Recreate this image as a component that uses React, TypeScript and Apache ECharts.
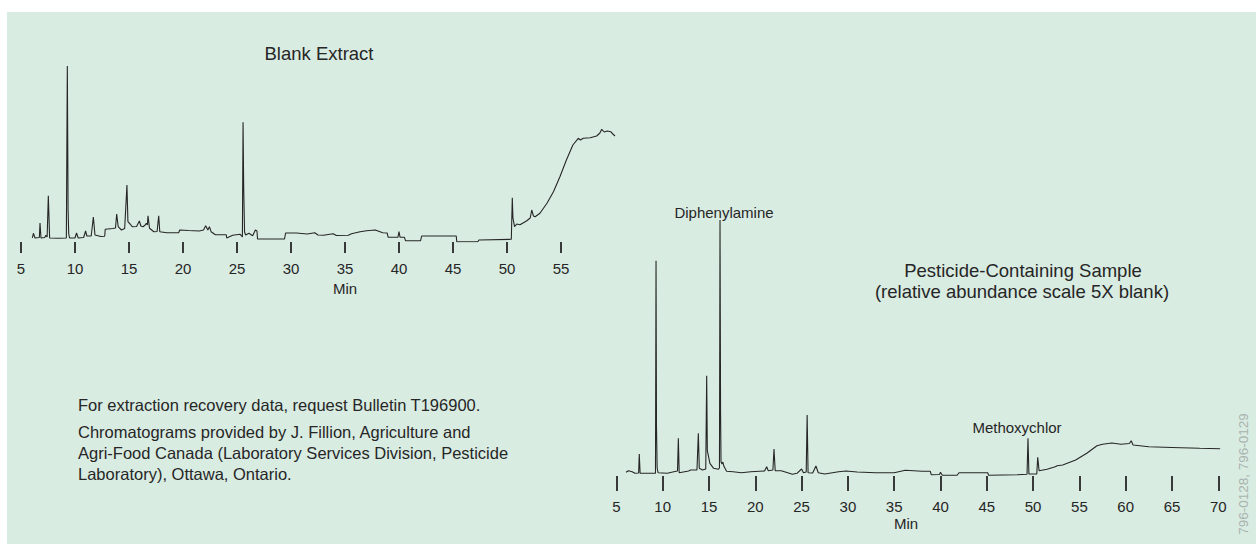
import React, { useEffect, useRef } from "react";
import * as echarts from "echarts";

// Retention time (min) / relative abundance pairs for each chromatogram
const blankTrace: [number, number][] = [
  [6.05, 4], [6.15, 8.7], [6.3, 4], [6.7, 4.5], [6.76, 19], [6.85, 4], [7.2, 4.5], [7.3, 6.7], [7.42, 5],
  [7.53, 46.3], [7.65, 4], [8.5, 3.8], [9.2, 4], [9.29, 176], [9.36, 32], [9.42, 8], [9.5, 4], [10.0, 4],
  [10.14, 9], [10.3, 4], [10.8, 4.5], [10.98, 11], [11.1, 6], [11.5, 6], [11.7, 25], [11.85, 7], [12.4, 5.5],
  [12.75, 5.7], [12.8, 12.7], [13.5, 13.5], [13.75, 14], [13.86, 28], [14.0, 15.3], [14.3, 12], [14.6, 13.5],
  [14.81, 57], [14.9, 20.3], [15.1, 18], [15.3, 15.3], [15.7, 15.5], [15.96, 21], [16.1, 16], [16.3, 15.3],
  [16.5, 17], [16.6, 18.7], [16.7, 17], [16.76, 26.3], [16.9, 13.7], [17.3, 10.3], [17.6, 10.5], [17.75, 26.3],
  [17.85, 10.3], [18.5, 9.3], [19.6, 9.3], [19.7, 12], [20.5, 11.5], [21.5, 11], [21.9, 12], [22.1, 16.3],
  [22.3, 12], [22.45, 15.3], [22.6, 10.3], [23.0, 7.3], [24.0, 7.3], [24.05, 4], [24.6, 6.7], [25.3, 7.7],
  [25.5, 5], [25.56, 119.7], [25.62, 54], [25.7, 10], [25.8, 7], [26.1, 8.7], [26.45, 6.3], [26.7, 12],
  [26.85, 11], [26.9, 3], [29.4, 3], [29.5, 9], [30.5, 9], [31.5, 8], [32.2, 9.3], [32.5, 7], [33.0, 6.7],
  [33.9, 8.3], [34.2, 6.5], [35.3, 6.7], [35.6, 8.3], [36.4, 10.3], [37.0, 11.3], [37.8, 12], [38.5, 9.3],
  [38.9, 9], [39.0, 4.7], [39.9, 4.7], [40.0, 10.3], [40.1, 4.7], [40.5, 4.7], [40.6, 1.3], [42.0, 1.3],
  [42.1, 6], [45.3, 6], [45.35, 0.3], [47.3, 0.3], [47.4, 2], [50.4, 2.7], [50.49, 44.3], [50.55, 24],
  [50.7, 15.3], [50.9, 18], [51.2, 17.3], [51.8, 21], [52.15, 24], [52.29, 32], [52.45, 26], [52.6, 25.3],
  [53.05, 28.7], [53.7, 38.7], [54.3, 50.3], [54.9, 65.3], [55.5, 82], [56.1, 97], [56.6, 103.7], [56.8, 102],
  [57.06, 103.7], [57.7, 104.3], [58.3, 106], [58.6, 109], [58.77, 112.7], [59.0, 110], [59.3, 111],
  [59.6, 110.3], [59.8, 108], [60.0, 106],
];

const sampleTrace: [number, number][] = [
  [6.04, 3.7], [6.3, 5.3], [6.7, 4.3], [7.0, 2.7], [7.4, 3], [7.47, 22], [7.56, 2.7], [8.5, 2.7], [9.22, 2.7],
  [9.28, 215.3], [9.33, 49], [9.4, 8], [9.5, 3.3], [10.5, 2.7], [11.2, 4.3], [11.6, 5], [11.69, 37.7],
  [11.78, 3.3], [12.8, 5], [13.0, 6], [13.7, 6], [13.85, 42.7], [13.95, 7.7], [14.3, 6], [14.65, 7],
  [14.75, 100.3], [14.82, 25.3], [15.1, 12.7], [15.5, 7.7], [16.0, 6.7], [16.13, 8], [16.19, 256],
  [16.25, 62.7], [16.3, 14], [16.4, 12], [16.5, 14], [16.6, 10], [16.9, 4.7], [17.6, 4.3], [18.5, 3.3],
  [19.5, 4.3], [21.0, 5], [21.23, 9.3], [21.4, 5.3], [21.9, 6], [22.02, 27], [22.15, 5.3], [22.8, 5.3],
  [23.5, 3.3], [24.0, 1.7], [24.5, 2.7], [25.0, 7], [25.2, 3.3], [25.5, 4], [25.6, 61], [25.7, 3.3],
  [26.2, 3], [26.55, 10], [26.8, 3.3], [27.5, 2], [29.0, 4.3], [29.8, 5], [31.0, 4], [33.0, 3.3], [35.0, 3.3],
  [36.2, 5.7], [38.0, 4.7], [38.9, 4.7], [39.0, 1.3], [39.9, 1.5], [40.0, 3.7], [40.2, 0.7], [41.8, 0.7],
  [42.0, 3.3], [45.1, 3.3], [45.2, 0.7], [48.3, 1.3], [49.35, 1.7], [49.45, 37.7], [49.55, 2], [50.4, 2],
  [50.5, 18.7], [50.65, 5.3], [51.5, 6.7], [52.4, 9.3], [52.6, 10.3], [53.2, 11], [54.6, 16], [55.8, 22.7],
  [56.9, 30.3], [57.5, 31.7], [58.5, 33], [59.5, 31.7], [60.4, 32.5], [60.6, 35.3], [60.8, 31], [62.5, 29.3],
  [65.0, 28.5], [68.0, 27.7], [70.2, 27.3],
];

// Tick positions (min) along each time axis
const blankTicks = [5, 10, 15, 20, 25, 30, 35, 40, 45, 50, 55];
const sampleTicks = [5, 10, 15, 20, 25, 30, 35, 40, 45, 50, 55, 60, 65, 70];

const blankTitle = "Blank Extract";
const sampleTitle = ["Pesticide-Containing Sample", "(relative abundance scale 5X blank)"];
const peakNames = ["Diphenylamine", "Methoxychlor"];
const notes = [
  "For extraction recovery data, request Bulletin T196900.",
  "Chromatograms provided by J. Fillion, Agriculture and",
  "Agri-Food Canada (Laboratory Services Division, Pesticide",
  "Laboratory), Ottawa, Ontario.",
];
const figureCode = "796-0128, 796-0129";

const FONT = '"Liberation Sans", Arial, Helvetica, sans-serif';
const INK = "#262626";
const PANEL = "#d9ece2";

function label(text: string, x: number, y: number, size: number, align = "center", color = INK, rotation = 0) {
  return {
    type: "text",
    x,
    y,
    rotation,
    silent: true,
    style: {
      text,
      font: `${size}px ${FONT}`,
      fill: color,
      textAlign: align,
      textVerticalAlign: "middle",
      align,
      verticalAlign: "middle",
    },
  };
}

export default function App() {
  const ref = useRef<HTMLDivElement>(null);

  useEffect(() => {
    if (!ref.current) return;
    const chart = echarts.init(ref.current, undefined, { renderer: "svg" });

    const axisCommon = (ticks: number[], tickLen: number, offset: number, margin: number) => ({
      type: "value",
      offset,
      splitLine: { show: false },
      axisLine: { show: false },
      axisTick: {
        show: true,
        inside: false,
        length: tickLen,
        customValues: ticks,
        lineStyle: { color: INK, width: 1.8 },
      },
      axisLabel: {
        show: true,
        customValues: ticks,
        margin,
        fontFamily: FONT,
        fontSize: 15,
        color: INK,
      },
    });

    chart.setOption({
      animation: false,
      grid: [
        { left: 21, top: 66, width: 594, height: 176 },
        { left: 616.4, top: 220, width: 606.5, height: 256 },
      ],
      xAxis: [
        { gridIndex: 0, min: 5, max: 60, ...axisCommon(blankTicks, 11, 5, 14) },
        { gridIndex: 1, min: 5, max: 70.5, ...axisCommon(sampleTicks, 15, 3, 20) },
      ],
      yAxis: [
        { gridIndex: 0, type: "value", min: 0, max: 176, show: false },
        { gridIndex: 1, type: "value", min: 0, max: 256, show: false },
      ],
      series: [
        {
          name: blankTitle,
          type: "line",
          xAxisIndex: 0,
          yAxisIndex: 0,
          data: blankTrace,
          showSymbol: false,
          lineStyle: { color: INK, width: 1.1 },
        },
        {
          name: sampleTitle[0],
          type: "line",
          xAxisIndex: 1,
          yAxisIndex: 1,
          data: sampleTrace,
          showSymbol: false,
          lineStyle: { color: INK, width: 1.1 },
        },
      ],
      graphic: [
        label(blankTitle, 319, 53, 18.5),
        label("Min", 345, 288, 15),
        label(peakNames[0], 724, 212, 15),
        label(sampleTitle[0], 1023, 270, 18.5),
        label(sampleTitle[1], 1022, 291, 18.5),
        label(peakNames[1], 1017, 427, 15),
        label("Min", 906, 523, 15),
        label(notes[0], 78, 405, 16.5, "left"),
        label(notes[1], 78, 432, 16.5, "left"),
        label(notes[2], 78, 453, 16.5, "left"),
        label(notes[3], 78, 474, 16.5, "left"),
        label(figureCode, 1243, 474, 13.5, "center", "#a9b3ae", Math.PI / 2),
      ],
    });

    return () => chart.dispose();
  }, []);

  return (
    <div style={{ position: "fixed", left: 0, top: 0, width: 1256, height: 544, background: "#ffffff" }}>
      <div style={{ position: "absolute", left: 7, top: 12, right: 0, bottom: 0, background: PANEL }} />
      <div ref={ref} style={{ position: "absolute", left: 0, top: 0, width: 1256, height: 544 }} />
    </div>
  );
}
